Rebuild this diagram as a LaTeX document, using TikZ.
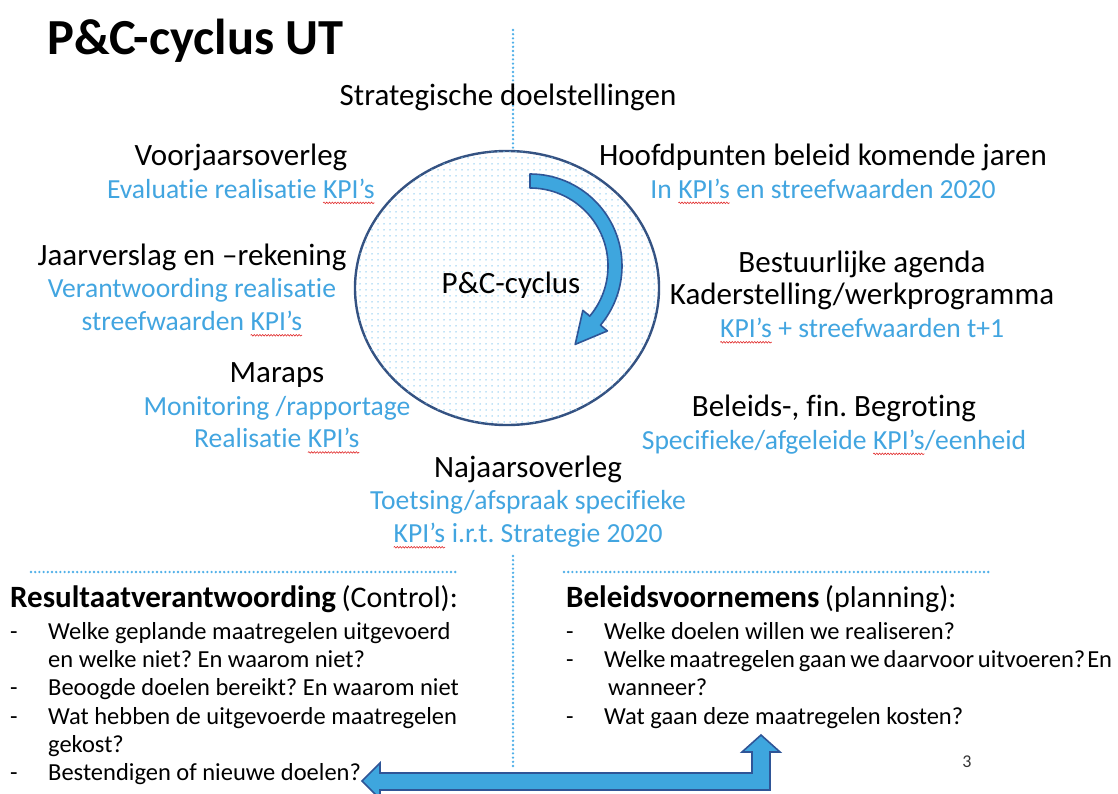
\documentclass[tikz,border=0pt]{standalone}
\usepackage{fontspec}
\setmainfont[Ligatures=CommonOff]{Carlito}
\usetikzlibrary{calc}
\usetikzlibrary{patterns.meta}
\usetikzlibrary{decorations.pathmorphing}
\definecolor{kpiblue}{RGB}{66, 165, 224}
\definecolor{rimblue}{RGB}{52, 82, 130}
\definecolor{arrowblue}{RGB}{62, 166, 222}
\definecolor{arrowrim}{RGB}{47, 85, 151}
\definecolor{dotblue}{RGB}{80, 176, 232}
\definecolor{wavered}{RGB}{225, 45, 45}
\newcommand{\kpi}{\tikz[baseline=(k.base), x=1pt, y=1pt]{\node[inner sep=0pt, outer sep=0pt, text=kpiblue] (k) {KPI’s};
    \draw[wavered, line width=0.6pt, decorate, decoration={snake, amplitude=0.8pt, segment length=2.8pt}] ([yshift=-4.5pt]k.base west) -- ([yshift=-4.5pt]k.base east);}}
\newcommand{\kpiline}[1]{{\fontsize{27.6}{32.8}\selectfont\color{kpiblue}#1}}
\newcommand{\dashitem}{\makebox[38pt][l]{-}}
\frenchspacing

\begin{document}
\begin{tikzpicture}[x=1pt, y=-1pt,
    body/.style={font=\fontsize{31}{32.8}\selectfont, align=center},
    listtext/.style={font=\fontsize{24.5}{28.3}\selectfont, align=left, inner sep=0pt},
    dotline/.style={dotblue, line width=2.6pt, line cap=round, dash pattern=on 0pt off 4.2pt}]
            \useasboundingbox (0, 0) rectangle (1118, 794);

            \draw[dotline] (513, 30) -- (513, 232);
            \draw[dotline] (513, 556) -- (513, 767);
            \draw[dotline] (31, 572) -- (457, 572);
            \draw[dotline] (564, 572) -- (990, 572);

            \node[font=\fontsize{50.5}{56}\selectfont\bfseries, anchor=base west, inner sep=0pt] (title) at (47, 55) {P\&C-cyclus UT};

            \draw[rimblue, line width=2.4pt, fill=white, postaction={pattern={Dots[distance=6pt, radius=0.75pt]}, pattern color=dotblue!70}]
                (507, 288) ellipse [x radius=152, y radius=137];
            \coordinate (hub) at (530, 266);
            \draw[arrowrim, line width=1.6pt, fill=arrowblue, line join=round]
                ($(hub)+(-90:92)$) arc[start angle=-90, end angle=40, radius=92]
                -- ($(hub)+(40:101)$) -- ($(hub)+(40:85)+(130:31)$) -- ($(hub)+(40:69)$)
                -- ($(hub)+(40:78)$) arc[start angle=40, end angle=-90, radius=78] -- cycle;
            \node[body] (cycle) at (511, 285) {P\&C-cyclus};

            \node[body] (strat) at (508, 97) {Strategische doelstellingen};
            \node[body] (voorjaar) at (241, 174) {Voorjaarsoverleg\\\kpiline{Evaluatie realisatie \kpi}};
            \node[body] (hoofd) at (823, 174) {Hoofdpunten beleid komende jaren\\\kpiline{In \kpi{} en streefwaarden 2020}};
            \node[body] (jaar) at (192, 290) {Jaarverslag en –rekening\\\kpiline{Verantwoording realisatie}\\\kpiline{streefwaarden \kpi}};
            \node[body] (bestuur) at (862, 297) {Bestuurlijke agenda\\Kaderstelling/werkprogramma\\\kpiline{\kpi{} + streefwaarden t+1}};
            \node[body] (maraps) at (277, 408) {Maraps\\\kpiline{Monitoring /rapportage}\\\kpiline{Realisatie \kpi}};
            \node[body] (begroting) at (834, 425) {Beleids-, fin. Begroting\\\kpiline{Specifieke/afgeleide \kpi/eenheid}};
            \node[body] (najaar) at (528, 502) {Najaarsoverleg\\\kpiline{Toetsing/afspraak specifieke}\\\kpiline{\kpi{} i.r.t. Strategie 2020}};

            \node[listtext, anchor=base west] (controlhead) at (10, 607) {{\fontsize{31}{34}\selectfont\bfseries Resultaatverantwoording} {\fontsize{30}{34}\selectfont (Control):}};
            \node[listtext, anchor=north west] (control) at (10, 622) {\dashitem Welke geplande maatregelen uitgevoerd\\
                \hspace*{38pt}en welke niet? En waarom niet?\\
                \dashitem Beoogde doelen bereikt? En waarom niet\\
                \dashitem Wat hebben de uitgevoerde maatregelen\\
                \hspace*{38pt}gekost?\\
                \dashitem Bestendigen of nieuwe doelen?};
            \node[listtext, anchor=base west] (planhead) at (566, 607) {{\fontsize{31}{34}\selectfont\bfseries Beleidsvoornemens} {\fontsize{30}{34}\selectfont (planning):}};
            \node[listtext, anchor=north west] (plan) at (566, 622) {\dashitem Welke doelen willen we realiseren?\\
                \dashitem{\spaceskip=0.16em Welke maatregelen gaan we daarvoor uitvoeren?\hspace{2pt}En}\\
                \hspace*{42pt}wanneer?\\
                \dashitem Wat gaan deze maatregelen kosten?};
            \node[font=\fontsize{18}{20}\selectfont, text=black!80] (pagenr) at (967, 762) {3};

            \coordinate (back) at (362, 781);
            \coordinate (forward) at (761, 735);
            \draw[arrowrim, line width=1.6pt, fill=arrowblue, line join=miter]
                (back) -- ++(18, -18) -- ++(0, 10) -- (752, 773) -- (752, 752) -- (742, 752)
                -- (forward) -- (780, 752) -- (770, 752) -- (770, 790) -- (380, 790) -- (380, 799) -- cycle;
        \end{tikzpicture}
\end{document}
